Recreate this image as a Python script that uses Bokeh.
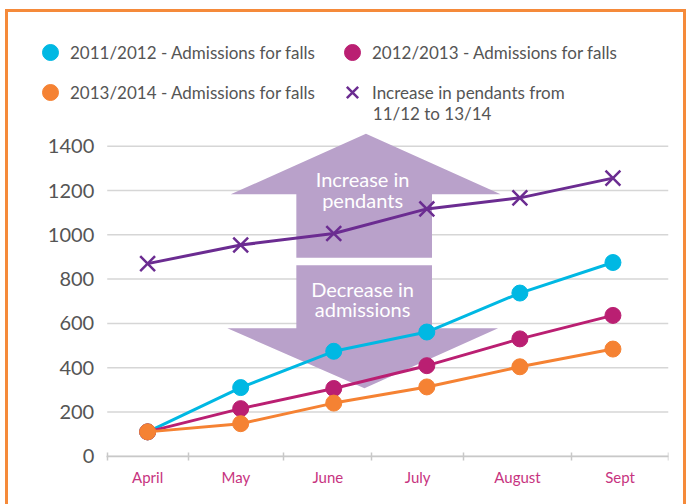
from bokeh.plotting import figure
from bokeh.models import Range1d, FixedTicker, Legend, LegendItem, Label
from bokeh.core.properties import value
from bokeh.embed import file_html
from bokeh.resources import INLINE

# ---- data ----
months = ["April", "May", "June", "July", "August", "Sept"]
falls_2011_12 = [110, 310, 474, 561, 737, 875]
falls_2012_13 = [110, 215, 306, 409, 530, 636]
falls_2013_14 = [110, 147, 240, 313, 404, 484]
pendants_increase = [870, 954, 1006, 1117, 1167, 1256]
y_ticks = [0, 200, 400, 600, 800, 1000, 1200, 1400]

legend_labels = [
    "2011/2012 - Admissions for falls",
    "2012/2013 - Admissions for falls",
    "2013/2014 - Admissions for falls",
    "Increase in pendants from",
]
legend_label_cont = "11/12 to 13/14"
arrow_texts = ["Increase in\npendants", "Decrease in\nadmissions"]

# ---- style ----
FONT = "Lato"
CYAN = "#00b8e3"
MAGENTA = "#ba1f72"
ORANGE = "#f58233"
PURPLE = "#6b2c91"
ARROW = "#b9a1ca"
GRID = "#d6d6d6"
MONTH_COLOR = "#c7347f"
TEXT_GREY = "#555555"
BORDER = "3px solid #f58a3a"

x = list(range(len(months)))
band_edges = [-0.434, 0.434, 1.464, 2.408, 3.395, 4.555, 5.597]
label_pos = [(a + b) / 2 for a, b in zip(band_edges[:-1], band_edges[1:])]
plot_bounds = (-0.44, 5.6)

p = figure(width=681, height=495, output_backend="svg", toolbar_location=None,
           x_range=Range1d(-1.28, 5.597), y_range=Range1d(-209, 1959),
           min_border_left=20, min_border_right=21, min_border_top=10,
           min_border_bottom=5)
p.styles = {"margin-left": "5px", "margin-top": "9px",
            "border-top": BORDER, "border-left": BORDER, "border-right": BORDER}
p.outline_line_color = None
p.background_fill_color = "white"
p.border_fill_color = "white"
p.xgrid.visible = False
p.ygrid.visible = False

# horizontal gridlines at the y ticks, spanning the category bands
p.segment(x0=[band_edges[0]] * len(y_ticks), x1=[band_edges[-1]] * len(y_ticks),
          y0=y_ticks, y1=y_ticks, line_color=GRID, line_width=1.5)

yax = p.yaxis[0]
yax.fixed_location = band_edges[0]
yax.ticker = FixedTicker(ticks=y_ticks)
yax.axis_line_color = None
yax.major_tick_line_color = None
yax.minor_tick_line_color = None
yax.major_tick_in = 0
yax.major_tick_out = 0
yax.minor_tick_in = 0
yax.minor_tick_out = 0
yax.major_label_standoff = 13
yax.major_label_text_font = FONT
yax.major_label_text_font_size = "20px"
yax.major_label_text_color = TEXT_GREY

xax = p.xaxis[0]
xax.fixed_location = 0
xax.bounds = plot_bounds
xax.ticker = FixedTicker(ticks=label_pos, minor_ticks=band_edges)
xax.major_label_overrides = {pos: m for pos, m in zip(label_pos, months)}
xax.major_tick_line_color = None
xax.major_tick_in = 0
xax.major_tick_out = 0
xax.minor_tick_line_color = "#c8c8c8"
xax.minor_tick_line_width = 1.5
xax.minor_tick_in = 4
xax.minor_tick_out = 4
xax.axis_line_color = "#c8c8c8"
xax.axis_line_width = 1.5
xax.major_label_standoff = 8
xax.major_label_text_font = FONT
xax.major_label_text_font_size = "15px"
xax.major_label_text_color = MONTH_COLOR

# ---- decorative arrows ----
up_arrow_x = [0.893, 2.346, 3.793, 3.056, 3.056, 1.598, 1.598]
up_arrow_y = [1183, 1456, 1183, 1183, 896, 896, 1183]
down_arrow_x = [1.598, 3.056, 3.056, 3.766, 2.33, 0.857, 1.598]
down_arrow_y = [863, 863, 578, 578, 307, 578, 578]
p.patch(up_arrow_x, up_arrow_y, fill_color=ARROW, line_color=None)
p.patch(down_arrow_x, down_arrow_y, fill_color=ARROW, line_color=None)
p.text(x=[2.31, 2.31], y=[1205, 710], text=arrow_texts,
       text_align="center", text_baseline="middle", text_color="white",
       text_font=value(FONT), text_font_size="20px", text_line_height=0.85)

# ---- series ----
p.line(x, pendants_increase, line_color=PURPLE, line_width=3)
r_pend = p.scatter(x, pendants_increase, marker="x", size=21,
                   line_color=PURPLE, line_width=2.5)

renderers = []
for vals, col in [(falls_2011_12, CYAN), (falls_2012_13, MAGENTA), (falls_2013_14, ORANGE)]:
    p.line(x, vals, line_color=col, line_width=3)
    renderers.append(p.scatter(x, vals, size=16, fill_color=col, line_color=col))

items = [
    LegendItem(label=legend_labels[0], renderers=[renderers[0]]),
    LegendItem(label=legend_labels[2], renderers=[renderers[2]]),
    LegendItem(label=legend_labels[1], renderers=[renderers[1]]),
    LegendItem(label=legend_labels[3], renderers=[r_pend]),
]
legend = Legend(items=items, location=(2, 390), ncols=2,
                glyph_width=40, glyph_height=40, label_standoff=0,
                label_width=262, label_height=20, spacing=0, padding=0, margin=0,
                border_line_color=None, background_fill_alpha=0,
                label_text_font=FONT, label_text_font_size="17px",
                label_text_color=TEXT_GREY)
p.add_layout(legend)
p.add_layout(Label(x=2.42, y=1550, text=legend_label_cont, text_align="left",
                   text_baseline="middle", text_font=FONT, text_font_size="17px",
                   text_color=TEXT_GREY))

open("out.html", "w").write(file_html(p, INLINE))
